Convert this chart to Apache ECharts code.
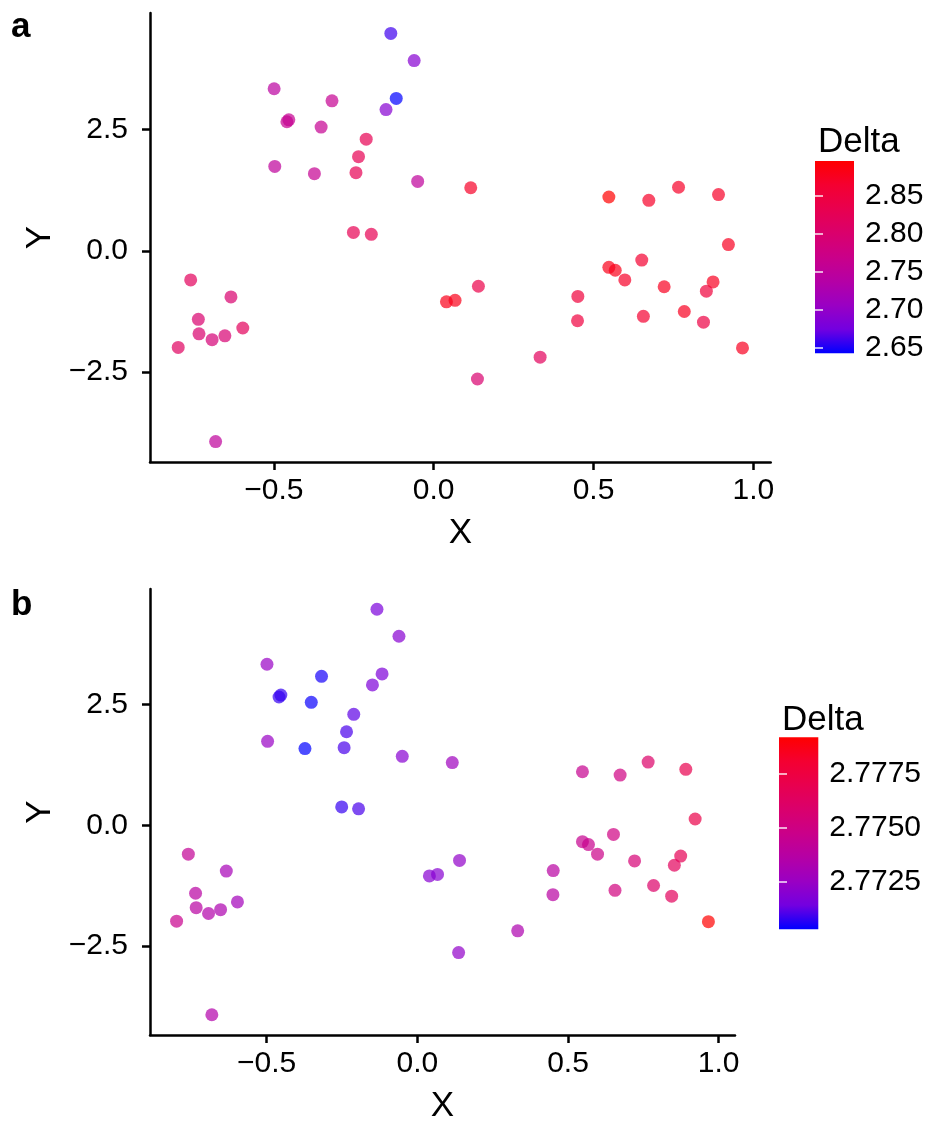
<!DOCTYPE html>
<html>
<head>
<meta charset="utf-8">
<script src="https://cdn.jsdelivr.net/npm/echarts@6/dist/echarts.min.js"></script>
<style>
html,body{margin:0;padding:0;background:#fff;}
#chart{width:933px;height:1125px;}
</style>
</head>
<body>
<div id="chart"></div>
<script>
// ---- data ----
const X = [-0.134, -0.061, -0.499, -0.318, -0.117, -0.149, -0.459, -0.453, -0.352, -0.211,
           -0.235, -0.497, -0.373, -0.243, -0.050, 0.116, -0.251, -0.195, -0.760, -0.634,
           -0.736, -0.734, -0.693, -0.653, -0.597, -0.799, -0.682, 0.040, 0.067, 0.140,
           0.137, 0.548, 0.673, 0.766, 0.891, 0.922, 0.548, 0.568, 0.598, 0.651,
           0.721, 0.874, 0.853, 0.784, 0.844, 0.656, 0.451, 0.450, 0.966, 0.333];
const Y = [4.48, 3.92, 3.34, 3.09, 3.14, 2.91, 2.66, 2.70, 2.55, 2.30,
           1.94, 1.74, 1.59, 1.61, 1.43, 1.30, 0.38, 0.34, -0.60, -0.95,
           -1.41, -1.71, -1.83, -1.75, -1.59, -1.99, -3.93, -1.05, -1.02, -0.73,
           -2.64, 1.11, 1.04, 1.31, 1.16, 0.13, -0.34, -0.40, -0.60, -0.19,
           -0.74, -0.64, -0.83, -1.25, -1.47, -1.35, -0.94, -1.44, -2.00, -2.19];
const deltaA = [2.660, 2.690, 2.745, 2.760, 2.643, 2.690, 2.760, 2.760, 2.760, 2.830,
                2.830, 2.750, 2.760, 2.830, 2.750, 2.870, 2.830, 2.830, 2.820, 2.800,
                2.800, 2.800, 2.790, 2.795, 2.820, 2.815, 2.750, 2.880, 2.880, 2.840,
                2.800, 2.896, 2.870, 2.870, 2.870, 2.875, 2.880, 2.880, 2.870, 2.865,
                2.875, 2.875, 2.855, 2.875, 2.845, 2.865, 2.855, 2.850, 2.875, 2.820];
const deltaB = [2.7716, 2.7720, 2.7725, 2.7705, 2.7717, 2.7717, 2.7708, 2.7708, 2.7704, 2.7712,
                2.7710, 2.7725, 2.7703, 2.7710, 2.7720, 2.7727, 2.7708, 2.7710, 2.7743, 2.7730,
                2.7738, 2.7738, 2.7735, 2.7733, 2.7729, 2.7746, 2.7735, 2.7720, 2.7720, 2.7723,
                2.7723, 2.7745, 2.7750, 2.7760, 2.7770, 2.7772, 2.7745, 2.7746, 2.7748, 2.7750,
                2.7755, 2.7768, 2.7765, 2.7760, 2.7765, 2.7752, 2.7738, 2.7738, 2.7792, 2.7733];
const xTicks = [-0.5, 0.0, 0.5, 1.0];
const yTicks = [-2.5, 0.0, 2.5];
const legendTicksA = [2.65, 2.70, 2.75, 2.80, 2.85];
const legendTicksB = [2.7725, 2.7750, 2.7775];
const panelLabels = ['a', 'b'];
const legendTitle = 'Delta';
const xTitle = 'X';
const yTitle = 'Y';
// blue -> red gradient (CIELAB-interpolated stops)
const gradientColors = ['#0000FF', '#7300E0', '#9A00C3', '#B500A5', '#CA0089',
                        '#DA006C', '#E8004F', '#F40031', '#FF0000'];

// ---- helpers ----
const FONT = '"Liberation Sans", Arial, Helvetica, sans-serif';
function expand(arr) {
  const lo = Math.min(...arr), hi = Math.max(...arr), r = hi - lo;
  return [lo - 0.05 * r, hi + 0.05 * r];
}
const [xMin, xMax] = expand(X);
const [yMin, yMax] = expand(Y);
const fmt1 = v => (v < 0 ? '\u2212' : '') + Math.abs(v).toFixed(1);
const dataA = X.map((x, i) => [x, Y[i], deltaA[i]]);
const dataB = X.map((x, i) => [x, Y[i], deltaB[i]]);
const rangeA = [Math.min(...deltaA), Math.max(...deltaA)];
const rangeB = [Math.min(...deltaB), Math.max(...deltaB)];

const axisLineStyle = { color: '#000', width: 2.5 };
function mainX(gi) {
  return {
    gridIndex: gi, type: 'value', min: xMin, max: xMax,
    splitLine: { show: false },
    axisLine: { onZero: false, lineStyle: axisLineStyle },
    axisTick: { length: 8, lineStyle: axisLineStyle, customValues: xTicks },
    axisLabel: { customValues: xTicks, formatter: fmt1, fontSize: 30, color: '#000',
                 fontFamily: FONT, margin: 14 },
    name: xTitle, nameLocation: 'middle', nameGap: 54,
    nameTextStyle: { fontSize: 35, color: '#000', fontFamily: FONT }
  };
}
function mainY(gi) {
  return {
    gridIndex: gi, type: 'value', min: yMin, max: yMax,
    splitLine: { show: false },
    axisLine: { onZero: false, lineStyle: axisLineStyle },
    axisTick: { length: 8, lineStyle: axisLineStyle, customValues: yTicks },
    axisLabel: { customValues: yTicks, formatter: fmt1, fontSize: 30, color: '#000',
                 fontFamily: FONT, margin: 22 },
    name: yTitle, nameLocation: 'middle', nameGap: 92, nameRotate: 90,
    nameTextStyle: { fontSize: 35, color: '#000', fontFamily: FONT }
  };
}
function legendY(gi, range, ticks, digits, side) {
  return {
    gridIndex: gi, type: 'value', min: range[0], max: range[1], position: side, z: 10,
    splitLine: { show: false }, axisLine: { show: false },
    axisTick: { show: true, inside: true, length: 8, customValues: ticks,
                lineStyle: { color: '#ffffff', width: 1.5, opacity: 0.9 } },
    axisLabel: { show: side === 'right', customValues: ticks, inside: false,
                 formatter: v => v.toFixed(digits), fontSize: 30, color: '#000',
                 fontFamily: FONT, margin: 11 }
  };
}
function colorbar(xi, yi, range) {
  return {
    type: 'custom', xAxisIndex: xi, yAxisIndex: yi, silent: true, z: 1,
    data: [[0, range[0], range[1]]],
    renderItem: function (params, api) {
      const p0 = api.coord([0, api.value(2)]);
      const p1 = api.coord([1, api.value(1)]);
      const stops = gradientColors.map((c, i) => ({ offset: i / (gradientColors.length - 1), color: c }));
      return {
        type: 'rect',
        shape: { x: p0[0], y: p0[1], width: p1[0] - p0[0], height: p1[1] - p0[1] },
        style: { fill: new echarts.graphic.LinearGradient(0, 1, 0, 0, stops) }
      };
    }
  };
}

const chart = echarts.init(document.getElementById('chart'), null, { renderer: 'canvas' });
chart.setOption({
  animation: false,
  backgroundColor: '#fff',
  title: [
    { text: panelLabels[0], left: 6, top: 5, textStyle: { fontSize: 35, fontWeight: 'bold', color: '#000', fontFamily: FONT } },
    { text: panelLabels[1], left: 6, top: 583, textStyle: { fontSize: 35, fontWeight: 'bold', color: '#000', fontFamily: FONT } },
    { text: legendTitle, left: 813, top: 120, textStyle: { fontSize: 35, fontWeight: 'normal', color: '#000', fontFamily: FONT } },
    { text: legendTitle, left: 777, top: 698, textStyle: { fontSize: 35, fontWeight: 'normal', color: '#000', fontFamily: FONT } }
  ],
  grid: [
    { left: 150, top: 13, width: 620.7, height: 449 },
    { left: 150, top: 589, width: 585, height: 447.7 },
    { left: 815, top: 161, width: 39, height: 192.3 },
    { left: 779, top: 737.3, width: 39.3, height: 192 }
  ],
  xAxis: [
    mainX(0), mainX(1),
    { gridIndex: 2, type: 'value', min: 0, max: 1, show: false },
    { gridIndex: 3, type: 'value', min: 0, max: 1, show: false }
  ],
  yAxis: [
    mainY(0), mainY(1),
    legendY(2, rangeA, legendTicksA, 2, 'right'),
    legendY(2, rangeA, legendTicksA, 2, 'left'),
    legendY(3, rangeB, legendTicksB, 4, 'right'),
    legendY(3, rangeB, legendTicksB, 4, 'left')
  ],
  visualMap: [
    { type: 'continuous', show: false, seriesIndex: 0, dimension: 2,
      min: rangeA[0], max: rangeA[1], inRange: { color: gradientColors } },
    { type: 'continuous', show: false, seriesIndex: 1, dimension: 2,
      min: rangeB[0], max: rangeB[1], inRange: { color: gradientColors } }
  ],
  series: [
    { type: 'scatter', xAxisIndex: 0, yAxisIndex: 0, data: dataA, symbolSize: 13,
      itemStyle: { opacity: 0.7 } },
    { type: 'scatter', xAxisIndex: 1, yAxisIndex: 1, data: dataB, symbolSize: 13,
      itemStyle: { opacity: 0.7 } },
    colorbar(2, 2, rangeA),
    colorbar(3, 4, rangeB)
  ]
});
</script>
</body>
</html>
